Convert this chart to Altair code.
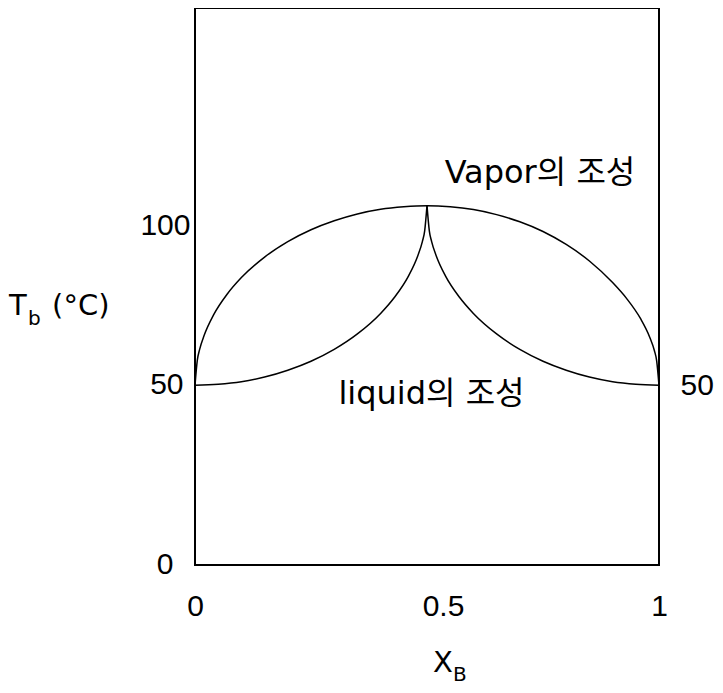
import altair as alt
import pandas as pd

# Vapor composition curve
vapor_x = [0, 0.005, 0.01, 0.02, 0.04, 0.07, 0.1, 0.15, 0.2, 0.25, 0.3, 0.35, 0.4, 0.45, 0.5,
           0.55, 0.6, 0.65, 0.7, 0.75, 0.8, 0.85, 0.9, 0.93, 0.96, 0.98, 0.99, 0.995, 1]
vapor_T = [50, 57, 60, 64, 69.6, 75.5, 80, 85.7, 90, 93.3, 95.8, 97.7, 99, 99.7, 100,
           99.7, 98.9, 97.5, 95.5, 92.8, 89.2, 84.6, 78.6, 74.2, 68.6, 63.4, 59.7, 56.8, 50]

# Liquid composition curve, left and right branches (meet at the cusp)
liqL_x = [0, 0.05, 0.1, 0.15, 0.2, 0.25, 0.3, 0.35, 0.4, 0.43, 0.46, 0.48, 0.49, 0.495, 0.5]
liqL_T = [50, 50.3, 51, 52.3, 54.2, 56.7, 60, 64.3, 70, 74.5, 80.4, 86, 90, 93, 100]
liqR_x = [0.5, 0.505, 0.51, 0.52, 0.54, 0.57, 0.6, 0.65, 0.7, 0.75, 0.8, 0.85, 0.9, 0.95, 1]
liqR_T = [100, 93, 90, 86, 80.4, 74.5, 70, 64.3, 60, 56.7, 54.2, 52.3, 51, 50.3, 50]

# Tick values
x_ticks = [0, 0.5, 1]
y_ticks_left = [0, 50, 100]
y_ticks_right = [50]

# Annotations (centered)
ann_text = ["Vapor의 조성", "liquid의 조성"]
ann_x = [0.7435, 0.5097]
ann_T = [109.1, 47.6]

# Axis titles (left aligned pieces, with subscripts)
ttl_text = ["T", "b", "(°C)", "X", "B"]
ttl_x = [-0.401, -0.360, -0.308, 0.513, 0.556]
ttl_T = [72.1, 68.4, 72.1, -27.3, -30.6]
ttl_size = [29, 20, 29, 29, 20]

FONT = "DejaVu Sans, Noto Sans CJK KR"
LFONT = "Liberation Sans"

rows = []
for x, t in zip(vapor_x, vapor_T):
    rows.append({"x": x, "T": t, "curve": "vapor"})
for x, t in zip(liqL_x, liqL_T):
    rows.append({"x": x, "T": t, "curve": "liquid_left"})
for x, t in zip(liqR_x, liqR_T):
    rows.append({"x": x, "T": t, "curve": "liquid_right"})
df = pd.DataFrame(rows)

ann_df = pd.DataFrame({"text": ann_text, "x": ann_x, "T": ann_T})
ttl_df = pd.DataFrame({"text": ttl_text, "x": ttl_x, "T": ttl_T, "fs": ttl_size})

xscale = alt.Scale(domain=[0, 1], nice=False, zero=False)
yscale = alt.Scale(domain=[0, 155], nice=False, zero=False)

x_axis = alt.Axis(
    values=x_ticks, format="~g", title=None, grid=False, ticks=False, tickSize=0, domain=False,
    labelFont=LFONT, labelFontSize=30, labelColor="black", labelFlush=False,
    labelPadding=26, labelOverlap=False,
    labelOffset={"condition": {"test": "datum.value == 0.5", "value": 16}, "value": 0},
)
y_axis_left = alt.Axis(
    orient="left", values=y_ticks_left, title=None, grid=False, ticks=False, tickSize=0,
    domain=False, labelFont=LFONT, labelFontSize=30, labelColor="black", labelFlush=False,
    labelOverlap=False,
    labelPadding={"condition": [{"test": "datum.value == 100", "value": 5},
                                {"test": "datum.value == 50", "value": 12}], "value": 22},
    labelOffset={"condition": [{"test": "datum.value == 100", "value": 20}], "value": -1},
)
y_axis_right = alt.Axis(
    orient="right", values=y_ticks_right, title=None, grid=False, ticks=False, tickSize=0,
    domain=False, labelFont=LFONT, labelFontSize=30, labelColor="black", labelFlush=False,
    labelPadding=21,
)

X = alt.X("x:Q", scale=xscale, axis=x_axis)

vapor = alt.Chart(df).transform_filter(alt.datum.curve == "vapor").mark_line(
    color="black", strokeWidth=1.5, interpolate="monotone"
).encode(
    x=X,
    y=alt.Y("T:Q", scale=yscale, axis=y_axis_left),
)

liquid = alt.Chart(df).transform_filter(alt.datum.curve != "vapor").mark_line(
    color="black", strokeWidth=1.5, interpolate="monotone"
).encode(
    x=X,
    y=alt.Y("T:Q", scale=yscale, axis=y_axis_right),
    detail="curve:N",
)

ann = alt.Chart(ann_df).mark_text(
    font=FONT, fontSize=32, align="center", baseline="middle", color="black"
).encode(
    x=X,
    y=alt.Y("T:Q", scale=yscale, axis=None),
    text="text:N",
)

ttl = alt.Chart(ttl_df).mark_text(
    font=FONT, align="left", baseline="middle", color="black"
).encode(
    x=X,
    y=alt.Y("T:Q", scale=yscale, axis=None),
    text="text:N",
    size=alt.Size("fs:Q", scale=None, legend=None),
)

chart = alt.layer(vapor, liquid, ann, ttl).resolve_axis(y="independent").properties(
    width=464, height=557,
    autosize=alt.AutoSizeParams(type="none"),
    padding={"left": 187, "top": 0, "right": 56, "bottom": 120},
    background="white",
).configure_view(stroke="black", strokeWidth=2)

chart.save("out.html", embed_options={"renderer": "svg", "actions": False})
